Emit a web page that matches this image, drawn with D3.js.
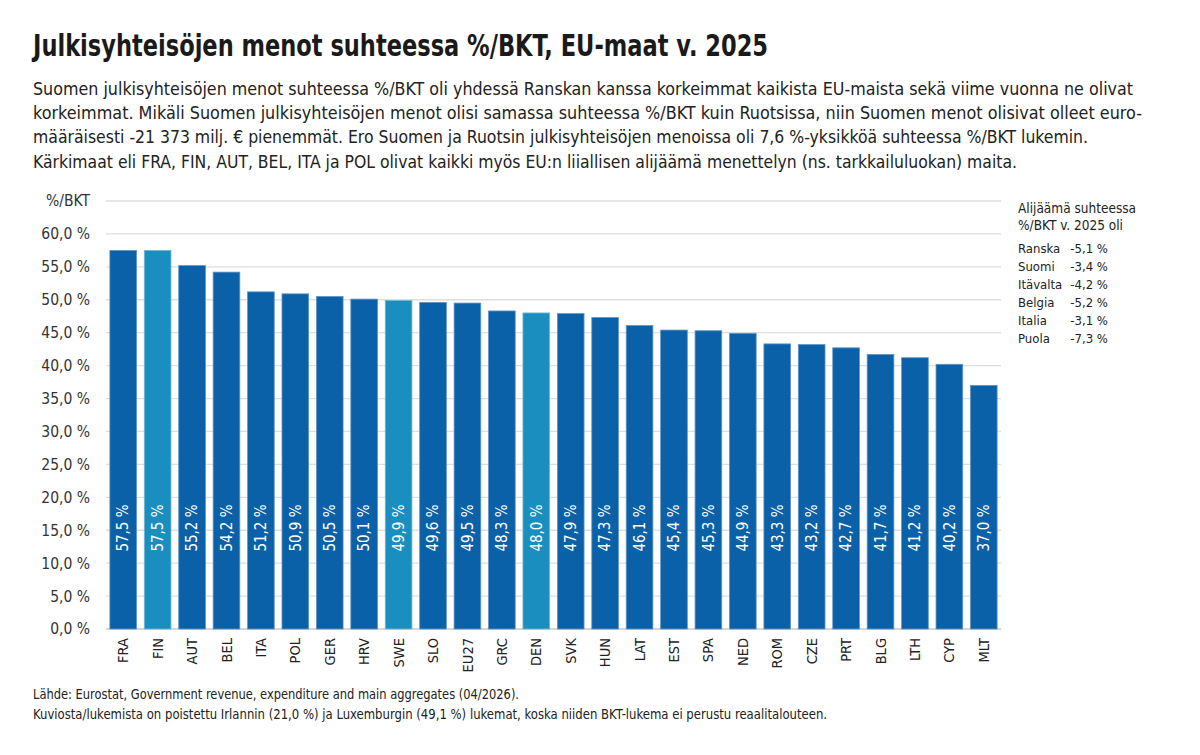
<!DOCTYPE html>
<html>
<head>
<meta charset="utf-8">
<script src="https://cdn.jsdelivr.net/npm/d3@7"></script>
<style>
  body { margin:0; background:#fff; }
  svg text { font-family:"DejaVu Sans Condensed","Roboto",sans-serif; fill:#222; }
</style>
</head>
<body>
<div id="chart"></div>
<script>
// data
var countries = ['FRA','FIN','AUT','BEL','ITA','POL','GER','HRV','SWE','SLO','EU27','GRC','DEN','SVK','HUN','LAT','EST','SPA','NED','ROM','CZE','PRT','BLG','LTH','CYP','MLT'];
var values = [57.5,57.5,55.2,54.2,51.2,50.9,50.5,50.1,49.9,49.6,49.5,48.3,48.0,47.9,47.3,46.1,45.4,45.3,44.9,43.3,43.2,42.7,41.7,41.2,40.2,37.0];
var highlighted = ['FIN','SWE','DEN'];
var yTicks = [0,5,10,15,20,25,30,35,40,45,50,55,60];
var deficitNames = ['Ranska','Suomi','Itävalta','Belgia','Italia','Puola'];
var deficitValues = [-5.1,-3.4,-4.2,-5.2,-3.1,-7.3];

var title = 'Julkisyhteisöjen menot suhteessa %/BKT, EU-maat v. 2025';
var subtitle = [
  'Suomen julkisyhteisöjen menot suhteessa %/BKT oli yhdessä Ranskan kanssa korkeimmat kaikista EU-maista sekä viime vuonna ne olivat',
  'korkeimmat. Mikäli Suomen julkisyhteisöjen menot olisi samassa suhteessa %/BKT kuin Ruotsissa, niin Suomen menot olisivat olleet euro-',
  'määräisesti -21 373 milj. € pienemmät. Ero Suomen ja Ruotsin julkisyhteisöjen menoissa oli 7,6 %-yksikköä suhteessa %/BKT lukemin.',
  'Kärkimaat eli FRA, FIN, AUT, BEL, ITA ja POL olivat kaikki myös EU:n liiallisen alijäämä menettelyn (ns. tarkkailuluokan) maita.'
];
var notes = [
  'Lähde: Eurostat, Government revenue, expenditure and main aggregates (04/2026).',
  'Kuviosta/lukemista on poistettu Irlannin (21,0 %) ja Luxemburgin (49,1 %) lukemat, koska niiden BKT-lukema ei perustu reaalitalouteen.'
];

var W = 1200, H = 755;
var svg = d3.select('#chart').append('svg').attr('width',W).attr('height',H);

var fmt = function(v){ return d3.format('.1f')(v).replace('.',',').replace('\u2212','-'); };

// header (condensed font squeezed to the original line widths)
svg.append('text').attr('x',33).attr('y',56).text(title)
  .attr('textLength',735).attr('lengthAdjust','spacingAndGlyphs')
  .style('font-size','30px').style('font-weight','bold').style('fill','#1a1a1a');
var subWidths = [1100,1109,1055,984];
svg.selectAll('.sub').data(subtitle).enter().append('text')
  .attr('class','sub').attr('x',33).attr('y',function(d,i){ return 95 + i*24.2; })
  .attr('textLength',function(d,i){ return subWidths[i]; }).attr('lengthAdjust','spacingAndGlyphs')
  .style('font-size','18px').text(function(d){ return d; });

// scales
var x = d3.scaleBand().domain(countries).range([106,1001]).paddingInner(0.225).paddingOuter(0.1125);
var y = d3.scaleLinear().domain([0,65]).range([629,201]);

// grid
svg.selectAll('.grid').data(yTicks.concat([65])).enter().append('line')
  .attr('x1',106).attr('x2',1001)
  .attr('y1',function(d){ return y(d); }).attr('y2',function(d){ return y(d); })
  .style('stroke',function(d){ return d===0 ? '#c8c8c8' : '#dedede'; }).style('stroke-width',1.3);

svg.selectAll('.ytick').data(yTicks).enter().append('text')
  .attr('x',90).attr('y',function(d){ return y(d); }).attr('dy','0.35em')
  .attr('text-anchor','end').style('font-size','15.5px').style('fill','#333')
  .text(function(d){ return fmt(d) + ' %'; });
svg.append('text').attr('x',90).attr('y',y(65)).attr('dy','0.35em')
  .attr('text-anchor','end').style('font-size','15.5px').style('fill','#333').text('%/BKT');

// bars
svg.selectAll('.bar').data(countries).enter().append('rect')
  .attr('x',function(d){ return x(d); })
  .attr('y',function(d,i){ return y(values[i]); })
  .attr('width',x.bandwidth())
  .attr('height',function(d,i){ return y(0) - y(values[i]); })
  .style('fill',function(d){ return highlighted.indexOf(d) >= 0 ? '#1a8fbf' : '#0b61a8'; })
  .style('stroke',function(d){ return highlighted.indexOf(d) >= 0 ? '#6fb8d9' : '#5f95c8'; })
  .style('stroke-width',0.8);

// value labels
svg.selectAll('.val').data(countries).enter().append('text')
  .attr('transform',function(d){ return 'translate(' + (x(d) + x.bandwidth()/2) + ',528) rotate(-90)'; })
  .attr('text-anchor','middle').attr('dy','0.35em')
  .style('font-size','15px').style('fill','#fff')
  .text(function(d,i){ return fmt(values[i]) + ' %'; });

// x labels
svg.selectAll('.xl').data(countries).enter().append('text')
  .attr('transform',function(d){ return 'translate(' + (x(d) + x.bandwidth()/2) + ',638) rotate(-90)'; })
  .attr('text-anchor','end').attr('dy','0.35em')
  .style('font-size','14.5px').style('fill','#222')
  .text(function(d){ return d; });

// deficit box
svg.append('text').attr('x',1018).attr('y',213).style('font-size','13.5px').text('Alijäämä suhteessa');
svg.append('text').attr('x',1018).attr('y',230).style('font-size','13.5px').text('%/BKT v. 2025 oli');
svg.selectAll('.dn').data(deficitNames).enter().append('text')
  .attr('x',1018).attr('y',function(d,i){ return 253 + i*18; })
  .style('font-size','13px').text(function(d){ return d; });
svg.selectAll('.dv').data(deficitValues).enter().append('text')
  .attr('x',1108).attr('y',function(d,i){ return 253 + i*18; })
  .attr('text-anchor','end').style('font-size','13px').text(function(d){ return fmt(d) + ' %'; });

// notes
var noteWidths = [486,794];
svg.selectAll('.note').data(notes).enter().append('text')
  .attr('x',33).attr('y',function(d,i){ return 699 + i*20; })
  .attr('textLength',function(d,i){ return noteWidths[i]; }).attr('lengthAdjust','spacingAndGlyphs')
  .style('font-size','13.5px').text(function(d){ return d; });
</script>
</body>
</html>
